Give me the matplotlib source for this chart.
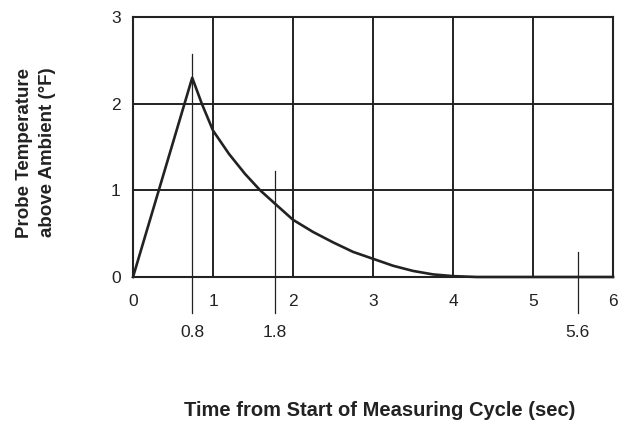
import matplotlib; matplotlib.use('Agg')
import matplotlib.pyplot as plt

plt.rcParams.update({'font.family': 'sans-serif', 'font.sans-serif': ['Liberation Sans', 'DejaVu Sans']})

# probe temperature curve
time_s = [0.0, 0.74, 0.86, 1.0, 1.2, 1.4, 1.59, 1.77, 2.0, 2.25, 2.5, 2.75,
          3.0, 3.25, 3.5, 3.75, 4.0, 4.3, 6.0]
temp_f = [0.0, 2.3, 2.0, 1.69, 1.42, 1.19, 1.0, 0.85, 0.66, 0.52, 0.40, 0.29,
          0.21, 0.13, 0.07, 0.03, 0.01, 0.0, 0.0]
# marker lines: x position as drawn, top of line (data units), label
mark_x = [0.74, 1.77, 5.56]
mark_top = [2.57, 1.22, 0.29]
mark_lbl = ['0.8', '1.8', '5.6']
xticks = [0, 1, 2, 3, 4, 5, 6]
yticks = [0, 1, 2, 3]

DK = '#222222'
fig = plt.figure(figsize=(6.21, 4.24), dpi=100)
ax = fig.add_axes([0.2142, 0.3467, 0.773, 0.613])
ax.set_xlim(0, 6); ax.set_ylim(0, 3)
ax.set_xticks(xticks); ax.set_yticks(yticks)
ax.grid(True, color=DK, lw=1.4)
ax.tick_params(axis='x', length=0, labelsize=12.5, colors=DK, pad=12)
ax.tick_params(axis='y', length=0, labelsize=12.5, colors=DK, pad=9)
for s in ax.spines.values():
    s.set_color(DK); s.set_linewidth(1.5)

ax.plot(time_s, temp_f, color=DK, lw=1.9, clip_on=False, zorder=3)

for x, top, lbl in zip(mark_x, mark_top, mark_lbl):
    ax.plot([x, x], [top, -0.42], color=DK, lw=0.9, clip_on=False, zorder=3)
    ax.text(x, -0.55, lbl, ha='center', va='top', fontsize=12.5, color=DK, clip_on=False)

fig.text(0.058, 0.64, 'Probe Temperature\nabove Ambient (°F)', rotation=90, ha='center', va='center',
         fontsize=13.5, fontweight='bold', color=DK, linespacing=1.5)
fig.text(0.612, 0.033, 'Time from Start of Measuring Cycle (sec)', ha='center', va='center',
         fontsize=14.5, fontweight='bold', color=DK)

fig.savefig('out.png', dpi=100)
